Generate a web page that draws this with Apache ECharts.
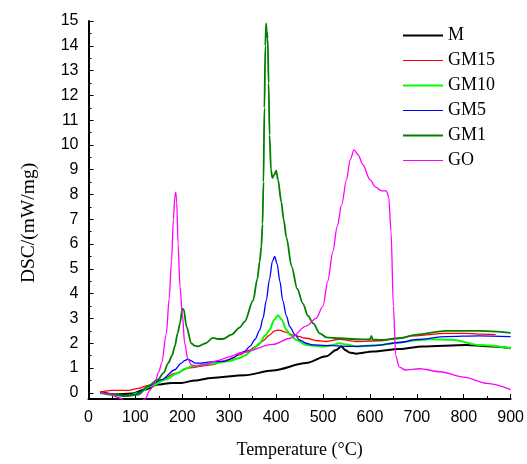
<!DOCTYPE html>
<html><head><meta charset="utf-8">
<script src="https://cdn.jsdelivr.net/npm/echarts@6/dist/echarts.min.js"></script>
<style>html,body{margin:0;padding:0;background:#fff}#c{width:527px;height:464px}</style>
</head><body><div id="c"></div>
<script>
// ---- data (temperature °C, DSC mW/mg) ----
const seriesNames = ['M','GM15','GM10','GM5','GM1','GO'];
const xTicks = [0,100,200,300,400,500,600,700,800,900];
const yTicks = [0,1,2,3,4,5,6,7,8,9,10,11,12,13,14,15];

const M_T = [25,56,92,120,148,177,198,227,262,333,393,464,507,528,539,548,556,571,606,663,712,805,850,900];
const M_Y = [0.03,-0.07,-0.03,0.13,0.33,0.40,0.40,0.50,0.60,0.71,0.90,1.20,1.47,1.73,1.87,1.72,1.63,1.58,1.67,1.77,1.87,1.93,1.88,1.80];

const GM15_T = [25,49,85,106,127,156,184,212,262,297,322,340,358,372,386,397,407,420,436,464,490,507,535,571,620,663,691,762,800,833,868];
const GM15_Y = [0.03,0.10,0.10,0.18,0.30,0.51,0.78,1.00,1.13,1.33,1.53,1.70,1.87,2.10,2.33,2.50,2.53,2.45,2.33,2.20,2.10,2.07,2.16,2.07,2.10,2.20,2.30,2.40,2.40,2.37,2.35];

const GM10_T = [25,56,85,106,134,163,191,205,220,262,297,322,333,350,365,376,386,396,404,412,422,432,443,464,500,520,535,550,571,620,663,700,727,776,833,900];
const GM10_Y = [0.00,-0.10,-0.13,0.00,0.27,0.53,0.80,0.95,1.07,1.17,1.27,1.40,1.50,1.75,2.00,2.30,2.53,2.95,3.13,2.95,2.53,2.30,2.13,1.93,1.87,1.93,2.00,1.95,1.87,1.93,2.03,2.12,2.16,2.14,1.93,1.80];

const GM5_T = [25,50,78,99,113,127,156,184,198,205,212,218,227,240,255,290,310,322,333,344,355,365,372,379,386,392,397,402,408,414,422,429,440,450,464,478,521,556,606,663,700,762,833,900];
const GM5_Y = [0.00,-0.05,-0.13,-0.07,0.08,0.27,0.53,0.93,1.20,1.30,1.36,1.30,1.20,1.20,1.24,1.27,1.42,1.60,1.67,1.87,2.15,2.53,3.00,3.73,4.60,5.30,5.50,5.20,4.50,3.73,3.10,2.67,2.35,2.13,2.00,1.93,1.90,1.87,1.90,2.03,2.15,2.27,2.30,2.27];

const GM1_T = [25,56,78,106,127,148,160,170,178,184,190,195,200,203,209,219,226,234,250,265,276,287,305,322,333,351,360,365,368.5,371,373,375,377,378.5,380,382,384,386,389,392,396,400,404,411,416,422,433,445,457,468,479,493,507,535,571,600,603,606,621,663,700,763,834,900];
const GM1_Y = [0.00,-0.07,-0.13,-0.07,0.27,0.53,0.80,1.20,1.50,1.87,2.40,2.80,3.40,3.35,2.67,2.00,1.90,1.87,2.00,2.22,2.17,2.17,2.35,2.63,2.87,3.73,4.60,5.30,5.90,6.80,8.50,11.5,14.0,14.9,14.6,14.3,12.5,10.4,9.00,8.67,8.80,8.96,8.60,7.70,7.00,6.27,5.10,4.20,3.60,3.10,2.80,2.40,2.24,2.20,2.16,2.15,2.30,2.15,2.13,2.20,2.35,2.50,2.50,2.42];

const GO_T = [25,45,65,85,105,120,131,141,150,156,166,172,177,181,184,186,188,191,195,200,205,212,219,230,250,275,300,322,393,430,465,485,500,510,521,530,540,550,558,566,575,585,600,612,625,635,640,645,650,655,662,675,706,750,800,850,900];
const GO_Y = [0.00,-0.05,-0.20,-0.45,-0.40,-0.27,0.10,0.40,0.85,1.20,2.40,3.80,5.30,7.00,7.90,8.10,7.70,6.00,4.30,3.20,2.00,1.35,1.13,1.08,1.15,1.30,1.45,1.60,1.95,2.20,2.70,3.00,3.50,4.50,5.70,6.70,7.60,8.60,9.40,9.80,9.60,9.20,8.60,8.30,8.15,8.15,7.90,6.50,3.50,1.50,1.05,0.92,0.97,0.85,0.63,0.38,0.13];

const seriesT = [M_T, GM15_T, GM10_T, GM5_T, GM1_T, GO_T];
const seriesY = [M_Y, GM15_Y, GM10_Y, GM5_Y, GM1_Y, GO_Y];
const colors = ['#000000','#ff0000','#00ff00','#0000ff','#007f00','#ff00ff'];
const widths = [2,1.3,2,1.3,1.8,1.3];
const legendThick = [true,false,true,false,true,false];

const minorY = [];
for (let i = 0; i < yTicks.length - 1; i++) minorY.push(yTicks[i] + 0.5);

const chart = echarts.init(document.getElementById('c'));
const serif = 'Liberation Serif, Times New Roman, serif';
const sans = 'Liberation Sans, Arial, sans-serif';
chart.setOption({
  animation: false,
  backgroundColor: '#ffffff',
  grid: { left: 88.5, right: 15.5, top: 21, bottom: 61.3, containLabel: false },
  legend: {
    orient: 'vertical', left: 398, top: 21.5,
    itemWidth: 40, itemHeight: 14, itemGap: 7,
    symbolKeepAspect: true,
    textStyle: { fontFamily: serif, fontSize: 18, color: '#000' },
    data: seriesNames.map((n, i) => ({
      name: n,
      icon: legendThick[i] ? 'path://M0,0h40v2.2h-40z' : 'path://M0,0h40v1.2h-40z',
      itemStyle: { color: colors[i], borderWidth: 0 }
    }))
  },
  graphic: [{
    type: 'text', x: 28.5, y: 223, rotation: Math.PI / 2,
    style: { text: 'DSC/(mW/mg)', font: '19.5px ' + serif, fill: '#000', align: 'center', verticalAlign: 'middle' }
  }],
  xAxis: {
    type: 'value', min: 0, max: 900, interval: 100,
    name: 'Temperature (°C)', nameLocation: 'middle', nameGap: 42,
    nameTextStyle: { fontFamily: serif, fontSize: 18, color: '#000' },
    axisLine: { show: true, onZero: false, lineStyle: { color: '#000', width: 2 } },
    axisTick: { show: true, inside: true, length: 5, lineStyle: { color: '#000', width: 1 } },
    minorTick: { show: true, splitNumber: 2, length: 3, lineStyle: { color: '#000', width: 1 } },
    axisLabel: { fontFamily: sans, fontSize: 16, color: '#000', margin: 11 },
    splitLine: { show: false }
  },
  yAxis: [{
    type: 'value', min: -0.25, max: 15,
    axisLine: { show: true, onZero: false, lineStyle: { color: '#000', width: 2 } },
    axisTick: { show: true, inside: true, length: 5, customValues: yTicks, lineStyle: { color: '#000', width: 1 } },
    axisLabel: { fontFamily: sans, fontSize: 16, color: '#000', margin: 10, customValues: yTicks },
    splitLine: { show: false }
  }, {
    type: 'value', min: -0.25, max: 15, position: 'left', offset: 0,
    axisLine: { show: false },
    axisTick: { show: true, inside: true, length: 3, customValues: minorY, lineStyle: { color: '#000', width: 1 } },
    axisLabel: { show: false },
    splitLine: { show: false }
  }],
  series: seriesNames.map((n, i) => ({
    name: n, type: 'line', xAxisIndex: 0, yAxisIndex: 0,
    data: seriesT[i].map((t, k) => [t, seriesY[i][k]]),
    showSymbol: false, symbol: 'none',
    smooth: 0.3, smoothMonotone: 'x',
    lineStyle: { color: colors[i], width: widths[i] },
    itemStyle: { color: colors[i] },
    clip: true
  }))
});
</script></body></html>
